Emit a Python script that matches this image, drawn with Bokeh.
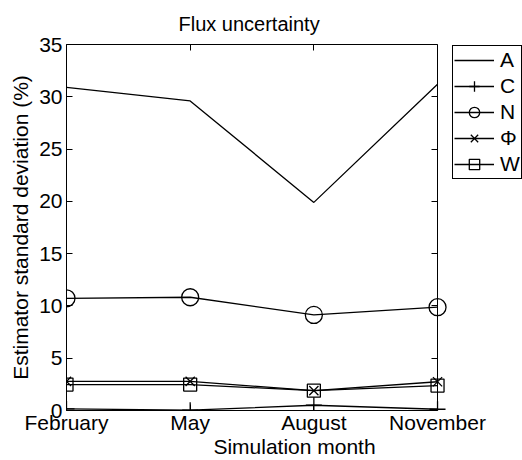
from bokeh.plotting import figure
from bokeh.models import LinearAxis, FixedTicker, Range1d, Legend, LegendItem
from bokeh.embed import file_html
from bokeh.resources import INLINE

months = ["February", "May", "August", "November"]
x = [1, 2, 3, 4]
A = [30.9, 29.6, 19.9, 31.2]
C = [0.15, 0.03, 0.5, 0.12]
N = [10.73, 10.83, 9.14, 9.88]
Phi = [2.79, 2.79, 1.9, 2.75]
W = [2.48, 2.48, 1.9, 2.38]
yticks = [0, 5, 10, 15, 20, 25, 30, 35]
labels = ["A", "C", "N", "\u03a6", "W"]

FONT = "Liberation Sans"
FS_TICK = "21px"
FS_LABEL = "21px"
FS_TITLE = "20px"

# frame runs to the right edge so the legend (inside it) can sit beside the box
p = figure(width=522, height=460, output_backend="svg", toolbar_location=None,
           x_range=Range1d(x[0], 4.687), y_range=Range1d(yticks[0], yticks[-1]),
           min_border_left=66, min_border_right=0, min_border_top=44, min_border_bottom=49,
           title="Flux uncertainty")
p.title.align = "left"
p.title.offset = 112
p.title.text_font = FONT
p.title.text_font_size = FS_TITLE
p.title.text_font_style = "normal"
p.title.text_color = "black"
p.title.standoff = 19
p.outline_line_color = None
p.grid.visible = False
p.background_fill_color = "white"
p.border_fill_color = "white"

xa = p.xaxis[0]
xa.ticker = FixedTicker(ticks=x)
xa.bounds = (x[0], x[-1])
xa.major_label_overrides = {xi: m for xi, m in zip(x, months)}
ya = p.yaxis[0]
ya.ticker = FixedTicker(ticks=yticks)
xa.axis_label = "Simulation month"
ya.axis_label = "Estimator standard deviation (%)"
for ax in (xa, ya):
    ax.major_tick_in = 6
    ax.major_tick_out = 0
    ax.minor_tick_line_color = None
    ax.axis_line_color = "black"
    ax.major_tick_line_color = "black"
    ax.major_label_text_font = FONT
    ax.major_label_text_font_size = FS_TICK
    ax.major_label_text_color = "black"
    ax.axis_label_text_font = FONT
    ax.axis_label_text_font_size = FS_LABEL
    ax.axis_label_text_font_style = "normal"
    ax.axis_label_text_color = "black"
xa.major_label_standoff = 0
xa.axis_label_standoff = -2
ya.major_label_standoff = 4
ya.axis_label_standoff = 4

# box sides with inward ticks (top and right, at the data limits)
top = LinearAxis(ticker=FixedTicker(ticks=x), bounds=(x[0], x[-1]), major_tick_in=6,
                 major_tick_out=0, minor_tick_line_color=None,
                 major_label_text_font_size="0px", major_label_text_color=None,
                 major_label_standoff=0, axis_line_color="black")
right = LinearAxis(ticker=FixedTicker(ticks=yticks), fixed_location=x[-1], major_tick_in=6,
                   major_tick_out=0, minor_tick_line_color=None,
                   major_label_text_font_size="0px", major_label_text_color=None,
                   major_label_standoff=0, axis_line_color="black")
p.add_layout(top, "above")
p.add_layout(right, "right")

lw = 1.3
rA = p.line(x, A, line_color="black", line_width=lw)
rC = p.line(x, C, line_color="black", line_width=lw)
mC = p.scatter(x, C, marker="cross", size=16, line_color="black", line_width=lw)
rN = p.line(x, N, line_color="black", line_width=lw)
mN = p.scatter(x, N, marker="circle", size=17, line_color="black", fill_color=None, line_width=lw)
rP = p.line(x, Phi, line_color="black", line_width=lw)
mP = p.scatter(x, Phi, marker="x", size=13, line_color="black", line_width=lw)
rW = p.line(x, W, line_color="black", line_width=lw)
mW = p.scatter(x, W, marker="square", size=13, line_color="black", fill_color=None, line_width=lw)
groups = [[rA], [rC, mC], [rN, mN], [rP, mP], [rW, mW]]

legend = Legend(items=[LegendItem(label=lab, renderers=g) for lab, g in zip(labels, groups)],
                location=(386, 231))
legend.label_text_font = FONT
legend.label_text_font_size = FS_TICK
legend.label_text_color = "black"
legend.border_line_color = "black"
legend.border_line_width = 1
legend.border_line_alpha = 1
legend.background_fill_alpha = 1
legend.glyph_width = 40
legend.glyph_height = 26
legend.label_standoff = 6
legend.spacing = 0
legend.padding = 1
legend.margin = 0
legend.label_height = 20
legend.label_width = 14
p.add_layout(legend, "center")

open("out.html", "w").write(file_html(p, INLINE))
